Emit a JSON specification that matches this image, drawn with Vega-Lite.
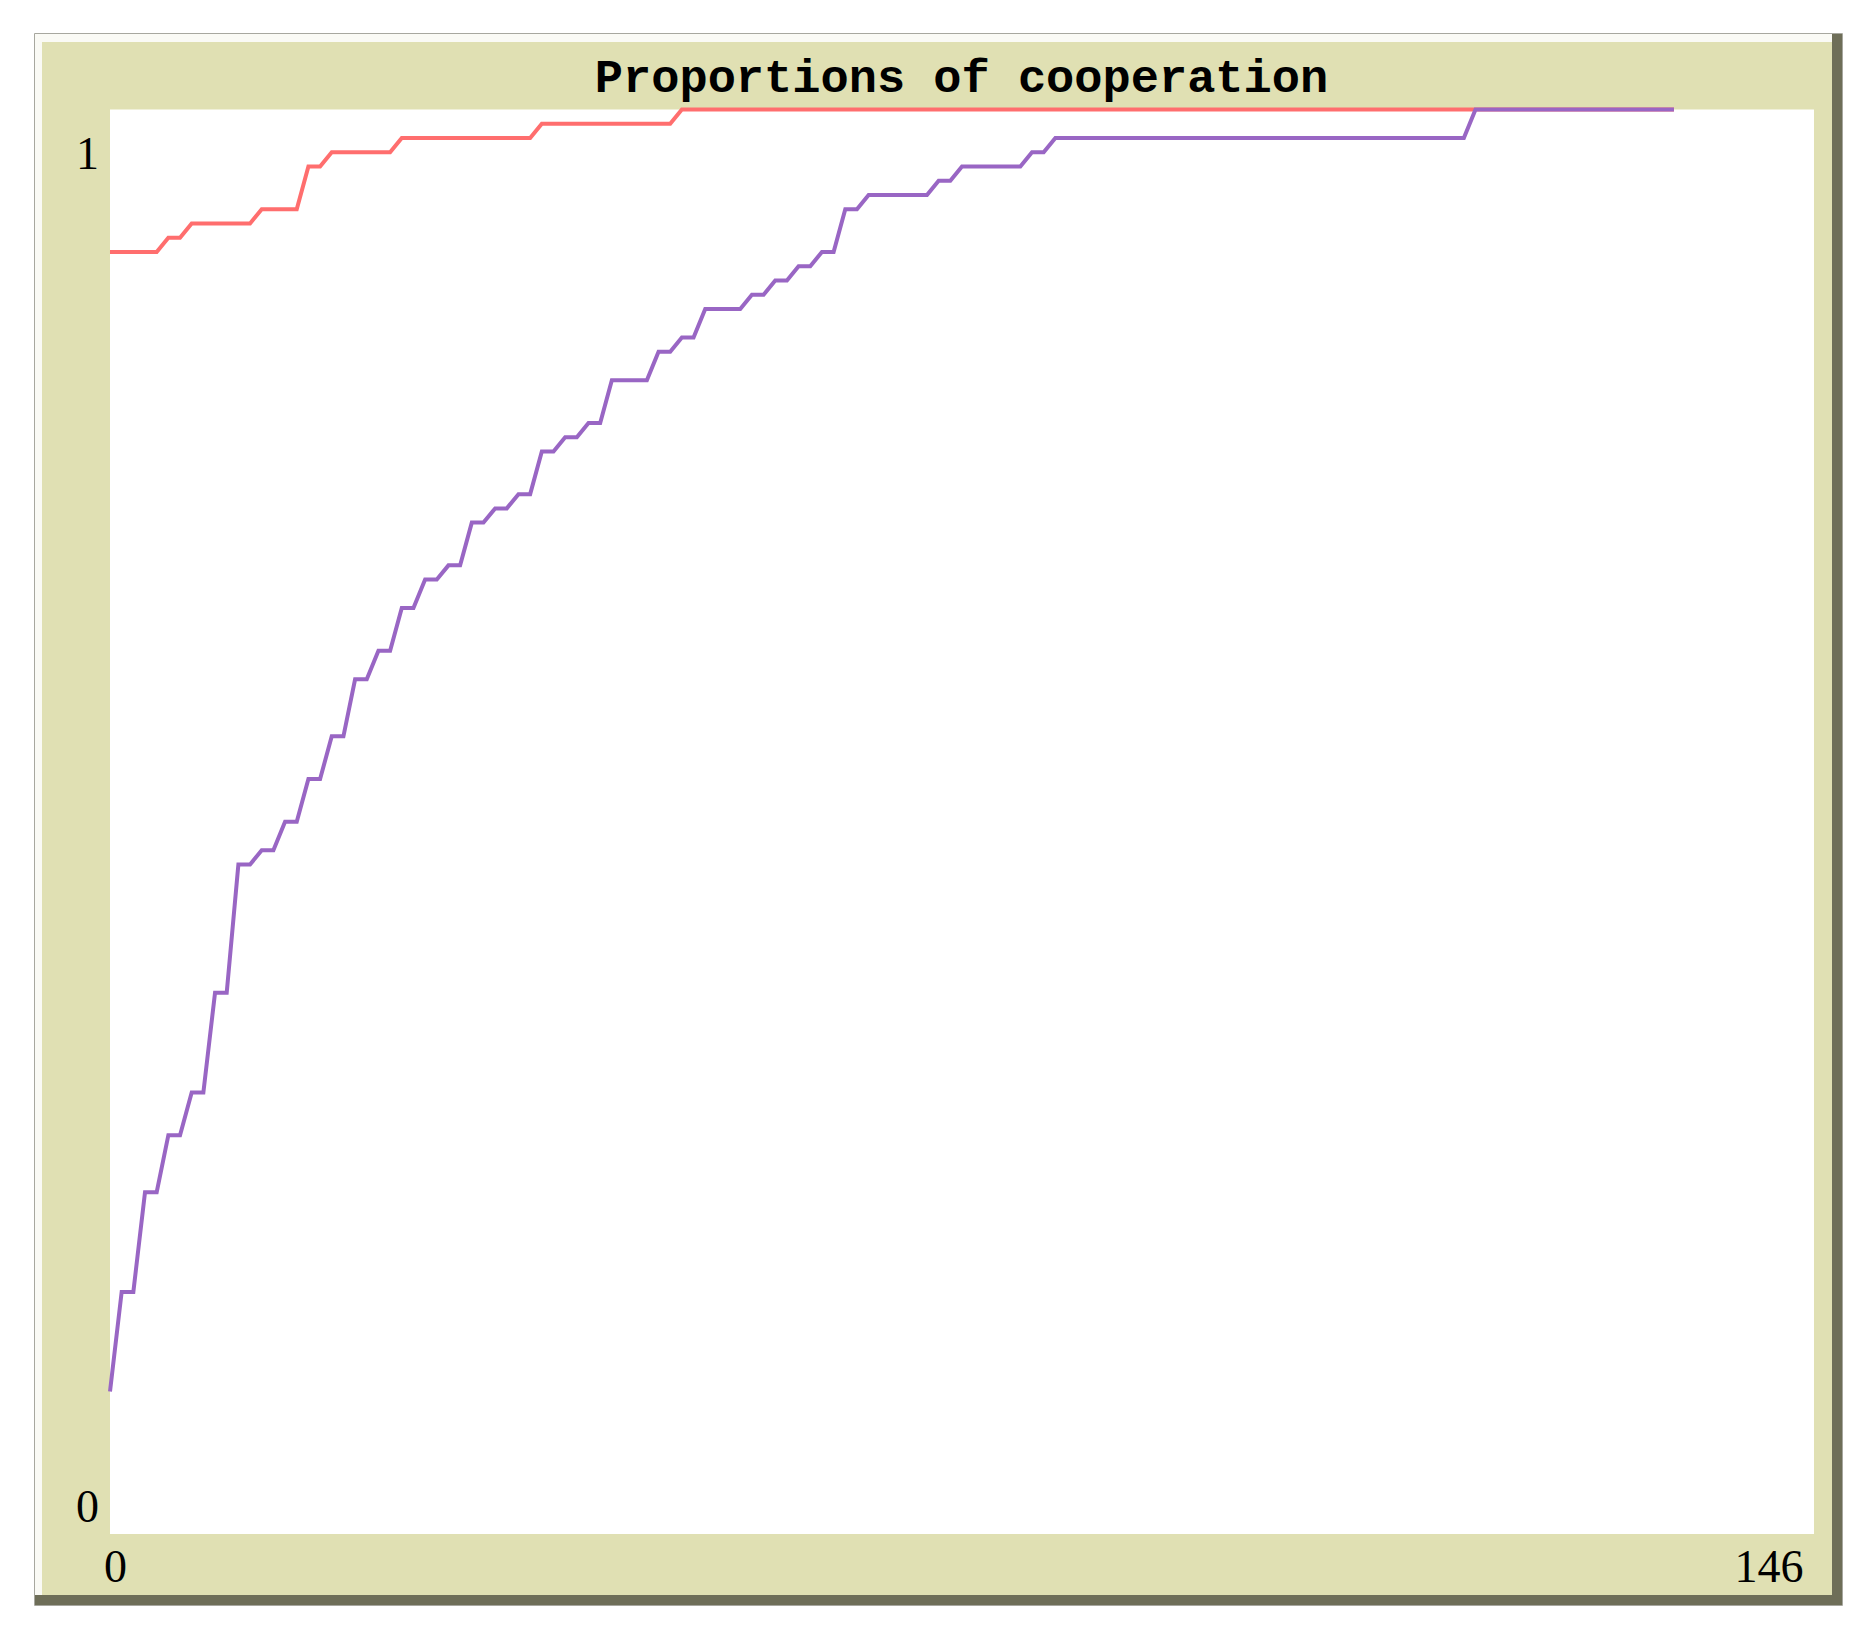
{
  "$schema": "https://vega.github.io/schema/vega-lite/v6.json",
  "width": 1807,
  "height": 1571,
  "autosize": {"type": "none"},
  "padding": {"left": 35, "top": 34, "right": 25, "bottom": 30},
  "background": "white",
  "config": {
    "view": {"fill": "#E0E0B3", "stroke": "#8A8A80", "strokeWidth": 1.5},
    "axisX": {
      "title": null,
      "domain": false,
      "ticks": false,
      "tickSize": 0,
      "grid": false,
      "labelPadding": 0,
      "offset": -38,
      "labelBaseline": "middle",
      "labelFont": "Liberation Serif",
      "labelFontSize": 46,
      "labelColor": "black",
      "labelOverlap": false,
      "labelFlush": false,
      "labelBound": false,
      "zindex": 1
    },
    "axisY": {
      "title": null,
      "domain": false,
      "ticks": false,
      "tickSize": 0,
      "grid": false,
      "labelPadding": 0,
      "offset": -52,
      "labelAlign": "center",
      "labelBaseline": "middle",
      "labelFont": "Liberation Serif",
      "labelFontSize": 46,
      "labelColor": "black",
      "labelOverlap": false,
      "labelFlush": false,
      "labelBound": false,
      "zindex": 1
    }
  },
  "title": {
    "text": "Proportions of cooperation",
    "font": "Liberation Mono",
    "fontWeight": "bold",
    "fontSize": 47,
    "color": "black",
    "anchor": "middle",
    "frame": "group",
    "offset": -68,
    "dx": 23
  },
  "datasets": {
    "plot": [
      {"tick": 0, "series": "series A", "value": 0.90},
      {"tick": 4, "series": "series A", "value": 0.90},
      {"tick": 5, "series": "series A", "value": 0.91},
      {"tick": 6, "series": "series A", "value": 0.91},
      {"tick": 7, "series": "series A", "value": 0.92},
      {"tick": 12, "series": "series A", "value": 0.92},
      {"tick": 13, "series": "series A", "value": 0.93},
      {"tick": 16, "series": "series A", "value": 0.93},
      {"tick": 17, "series": "series A", "value": 0.96},
      {"tick": 18, "series": "series A", "value": 0.96},
      {"tick": 19, "series": "series A", "value": 0.97},
      {"tick": 24, "series": "series A", "value": 0.97},
      {"tick": 25, "series": "series A", "value": 0.98},
      {"tick": 36, "series": "series A", "value": 0.98},
      {"tick": 37, "series": "series A", "value": 0.99},
      {"tick": 48, "series": "series A", "value": 0.99},
      {"tick": 49, "series": "series A", "value": 1.0},
      {"tick": 134, "series": "series A", "value": 1.0},
      {"tick": 0, "series": "series B", "value": 0.10},
      {"tick": 1, "series": "series B", "value": 0.17},
      {"tick": 2, "series": "series B", "value": 0.17},
      {"tick": 3, "series": "series B", "value": 0.24},
      {"tick": 4, "series": "series B", "value": 0.24},
      {"tick": 5, "series": "series B", "value": 0.28},
      {"tick": 6, "series": "series B", "value": 0.28},
      {"tick": 7, "series": "series B", "value": 0.31},
      {"tick": 8, "series": "series B", "value": 0.31},
      {"tick": 9, "series": "series B", "value": 0.38},
      {"tick": 10, "series": "series B", "value": 0.38},
      {"tick": 11, "series": "series B", "value": 0.47},
      {"tick": 12, "series": "series B", "value": 0.47},
      {"tick": 13, "series": "series B", "value": 0.48},
      {"tick": 14, "series": "series B", "value": 0.48},
      {"tick": 15, "series": "series B", "value": 0.50},
      {"tick": 16, "series": "series B", "value": 0.50},
      {"tick": 17, "series": "series B", "value": 0.53},
      {"tick": 18, "series": "series B", "value": 0.53},
      {"tick": 19, "series": "series B", "value": 0.56},
      {"tick": 20, "series": "series B", "value": 0.56},
      {"tick": 21, "series": "series B", "value": 0.60},
      {"tick": 22, "series": "series B", "value": 0.60},
      {"tick": 23, "series": "series B", "value": 0.62},
      {"tick": 24, "series": "series B", "value": 0.62},
      {"tick": 25, "series": "series B", "value": 0.65},
      {"tick": 26, "series": "series B", "value": 0.65},
      {"tick": 27, "series": "series B", "value": 0.67},
      {"tick": 28, "series": "series B", "value": 0.67},
      {"tick": 29, "series": "series B", "value": 0.68},
      {"tick": 30, "series": "series B", "value": 0.68},
      {"tick": 31, "series": "series B", "value": 0.71},
      {"tick": 32, "series": "series B", "value": 0.71},
      {"tick": 33, "series": "series B", "value": 0.72},
      {"tick": 34, "series": "series B", "value": 0.72},
      {"tick": 35, "series": "series B", "value": 0.73},
      {"tick": 36, "series": "series B", "value": 0.73},
      {"tick": 37, "series": "series B", "value": 0.76},
      {"tick": 38, "series": "series B", "value": 0.76},
      {"tick": 39, "series": "series B", "value": 0.77},
      {"tick": 40, "series": "series B", "value": 0.77},
      {"tick": 41, "series": "series B", "value": 0.78},
      {"tick": 42, "series": "series B", "value": 0.78},
      {"tick": 43, "series": "series B", "value": 0.81},
      {"tick": 46, "series": "series B", "value": 0.81},
      {"tick": 47, "series": "series B", "value": 0.83},
      {"tick": 48, "series": "series B", "value": 0.83},
      {"tick": 49, "series": "series B", "value": 0.84},
      {"tick": 50, "series": "series B", "value": 0.84},
      {"tick": 51, "series": "series B", "value": 0.86},
      {"tick": 54, "series": "series B", "value": 0.86},
      {"tick": 55, "series": "series B", "value": 0.87},
      {"tick": 56, "series": "series B", "value": 0.87},
      {"tick": 57, "series": "series B", "value": 0.88},
      {"tick": 58, "series": "series B", "value": 0.88},
      {"tick": 59, "series": "series B", "value": 0.89},
      {"tick": 60, "series": "series B", "value": 0.89},
      {"tick": 61, "series": "series B", "value": 0.90},
      {"tick": 62, "series": "series B", "value": 0.90},
      {"tick": 63, "series": "series B", "value": 0.93},
      {"tick": 64, "series": "series B", "value": 0.93},
      {"tick": 65, "series": "series B", "value": 0.94},
      {"tick": 70, "series": "series B", "value": 0.94},
      {"tick": 71, "series": "series B", "value": 0.95},
      {"tick": 72, "series": "series B", "value": 0.95},
      {"tick": 73, "series": "series B", "value": 0.96},
      {"tick": 78, "series": "series B", "value": 0.96},
      {"tick": 79, "series": "series B", "value": 0.97},
      {"tick": 80, "series": "series B", "value": 0.97},
      {"tick": 81, "series": "series B", "value": 0.98},
      {"tick": 116, "series": "series B", "value": 0.98},
      {"tick": 117, "series": "series B", "value": 1.0},
      {"tick": 134, "series": "series B", "value": 1.0}
    ]
  },
  "layer": [
    {
      "data": {"values": [{}]},
      "mark": {"type": "rule", "color": "#FAFAF5", "strokeWidth": 16, "clip": true},
      "encoding": {
        "y": {
          "datum": 1.053,
          "scale": {"domain": [-0.0498, 1.053], "zero": false, "nice": false},
          "axis": {"values": [0, 1], "format": "d", "labelOffset": {"condition": {"test": "datum.value == 1", "value": 44.5}, "value": -27}}
        }
      }
    },
    {
      "data": {"values": [{}]},
      "mark": {"type": "rule", "color": "#FAFAF5", "strokeWidth": 14, "clip": true},
      "encoding": {
        "x": {
          "datum": -6.426,
          "scale": {"domain": [-6.426, 148.4], "zero": false, "nice": false},
          "axis": {
            "values": [0, 146],
            "labelAlign": {"condition": {"test": "datum.value == 146", "value": "right"}, "value": "center"},
            "labelOffset": {"condition": {"test": "datum.value == 146", "value": -11}, "value": 5}
          }
        }
      }
    },
    {
      "data": {"values": [{}]},
      "mark": {"type": "rule", "color": "#6E6E58", "strokeWidth": 20, "clip": true},
      "encoding": {
        "x": {
          "datum": 148.4,
          "scale": {"domain": [-6.426, 148.4], "zero": false, "nice": false},
          "axis": {
            "values": [0, 146],
            "labelAlign": {"condition": {"test": "datum.value == 146", "value": "right"}, "value": "center"},
            "labelOffset": {"condition": {"test": "datum.value == 146", "value": -11}, "value": 5}
          }
        }
      }
    },
    {
      "data": {"values": [{}]},
      "mark": {"type": "rule", "color": "#6E6E58", "strokeWidth": 20, "clip": true},
      "encoding": {
        "y": {
          "datum": -0.0498,
          "scale": {"domain": [-0.0498, 1.053], "zero": false, "nice": false},
          "axis": {"values": [0, 1], "format": "d", "labelOffset": {"condition": {"test": "datum.value == 1", "value": 44.5}, "value": -27}}
        }
      }
    },
    {
      "data": {"values": [{}]},
      "mark": {"type": "rect", "fill": "white"},
      "encoding": {
        "x": {
          "datum": 0,
          "scale": {"domain": [-6.426, 148.4], "zero": false, "nice": false},
          "axis": {
            "values": [0, 146],
            "labelAlign": {"condition": {"test": "datum.value == 146", "value": "right"}, "value": "center"},
            "labelOffset": {"condition": {"test": "datum.value == 146", "value": -11}, "value": 5}
          }
        },
        "x2": {"datum": 146},
        "y": {
          "datum": 0,
          "scale": {"domain": [-0.0498, 1.053], "zero": false, "nice": false},
          "axis": {"values": [0, 1], "format": "d", "labelOffset": {"condition": {"test": "datum.value == 1", "value": 44.5}, "value": -27}}
        },
        "y2": {"datum": 1}
      }
    },
    {
      "data": {"name": "plot"},
      "mark": {"type": "line", "strokeWidth": 4},
      "encoding": {
        "x": {
          "field": "tick",
          "type": "quantitative",
          "scale": {"domain": [-6.426, 148.4], "zero": false, "nice": false},
          "axis": {
            "values": [0, 146],
            "labelAlign": {"condition": {"test": "datum.value == 146", "value": "right"}, "value": "center"},
            "labelOffset": {"condition": {"test": "datum.value == 146", "value": -11}, "value": 5}
          }
        },
        "y": {
          "field": "value",
          "type": "quantitative",
          "scale": {"domain": [-0.0498, 1.053], "zero": false, "nice": false},
          "axis": {"values": [0, 1], "format": "d", "labelOffset": {"condition": {"test": "datum.value == 1", "value": 44.5}, "value": -27}}
        },
        "color": {
          "field": "series",
          "type": "nominal",
          "scale": {"domain": ["series A", "series B"], "range": ["#FF6E6E", "#9966C4"]},
          "legend": null
        }
      }
    }
  ]
}
